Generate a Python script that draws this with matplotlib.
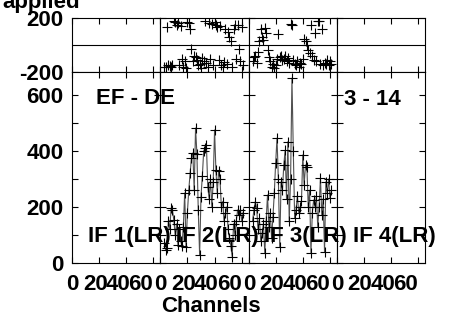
import numpy as np
import matplotlib
matplotlib.use('Agg')
import matplotlib.pyplot as plt
from matplotlib.ticker import MultipleLocator

plt.rcParams['font.family'] = 'Liberation Sans'
plt.rcParams['font.weight'] = 'bold'
plt.rcParams['font.size'] = 16
plt.rcParams['axes.unicode_minus'] = False

# =============================================================================
# data (channels start at 3 in IF 2 and IF 3)
# =============================================================================
if_labels = ['IF 1(LR)', 'IF 2(LR)', 'IF 3(LR)', 'IF 4(LR)']
xticks = [0, 20, 40, 60]

if2_amp = [70, 45, 54, 150, 120, 196, 189, 153, 100, 140,
           64, 120, 80, 60, 130, 250, 58, 180, 260, 321,
           375, 393, 260, 482, 390, 189, 29, 237, 310, 400,
           410, 421, 272, 230, 300, 200, 290, 475, 332, 250,
           330, 300, 200, 219, 150, 180, 200, 120, 89, 60,
           23, 140, 100, 150, 189, 170, 189, 150, 180]
if2_phase = [-160, -165, 135, -150, -153, -160, -145, 175, 168, 150,
             160, -150, 140, -104, -160, -120, -170, 170, 165, 118,
             -30, -118, -80, -90, -110, -150, -140, -170, -95, -120,
             175, -130, -160, 160, -100, 155, -150, 170, 150, 130,
             -110, 140, -150, -160, -125, 120, -140, 100, 57, 32,
             -160, 120, 150, -100, 145, -30, -118, 130, -150]

if3_amp = [150, 190, 219, 197, 120, 160, 80, 107, 140, 36,
           150, 243, 130, 180, 90, 165, 250, 357, 446, 300,
           58, 290, 260, 350, 403, 230, 433, 150, 300, 660,
           400, 160, 190, 240, 180, 200, 220, 386, 280, 350,
           344, 200, 260, 36, 180, 225, 200, 240, 130, 200,
           303, 170, 230, 40, 290, 250, 300, 232, 260]
if3_phase = [-120, -90, -79, -130, -50, 32, 118, 60, 40, 125,
             92, -40, -90, -120, -160, -140, -170, -150, -100, 80,
             -90, -80, -110, -100, -85, -120, -95, -130, 155, 150,
             -110, -140, -150, -120, -160, -130, -140, -100, 44, 30,
             0, -40, -60, 150, -80, -110, 92, -120, 175, 180,
             -140, 120, -150, -130, -140, -110, -150, -120, -140]

amp = [None, if2_amp, if3_amp, None]
phase = [None, if2_phase, if3_phase, None]

# =============================================================================
# layout in pixels of the 459x320 picture
# =============================================================================
W, H = 459, 320
x0, pw = 72, 88.25
fig = plt.figure(figsize=(W / 100, H / 100), dpi=100)

def style(ax):
    ax.tick_params(which='both', direction='in', top=True, right=True,
                   length=4, width=0.8, pad=6)
    for s in ax.spines.values():
        s.set_linewidth(0.8)

for i in range(4):
    left = (x0 + i * pw) / W
    axp = fig.add_axes([left, 1 - 72 / H, pw / W, 54 / H])
    axa = fig.add_axes([left, 1 - 263 / H, pw / W, 191 / H])
    for ax in (axp, axa):
        style(ax)
        ax.set_xlim(0, 65)
        ax.set_xticks(xticks)
        ax.set_xticklabels([])
    axp.set_ylim(-200, 200)
    axp.set_yticks([-200, 200])
    axp.axhline(0, color='k', lw=0.8)
    axa.set_ylim(0, 682)
    axa.yaxis.set_major_locator(MultipleLocator(200))
    axa.yaxis.set_minor_locator(MultipleLocator(100))
    if i > 0:
        axp.set_yticklabels([])
        axa.set_yticklabels([])

    if amp[i] is not None:
        ch = np.arange(3, 3 + len(amp[i]))
        axa.plot(ch, amp[i], '-', color='#505050', lw=0.8)
        axa.plot(ch, amp[i], '+', color='k', ms=7, mew=0.8)
        axp.plot(ch, phase[i], '+', color='k', ms=7, mew=0.8)

    # tick labels sit packed together as in the original plot
    for t in xticks:
        axa.text(t * 0.84 + 0.4, (263 - 290) / 191, str(t), ha='center',
                 va='baseline', transform=axa.get_xaxis_transform())

    fig.text((x0 + i * pw + 16) / W, 1 - 242 / H, if_labels[i], va='baseline')

fig.text(80 / W, 1 - 8 / H, 'applied', ha='right', va='baseline')
fig.text(96 / W, 1 - 104 / H, 'EF - DE', va='baseline')
fig.text(344 / W, 1 - 105 / H, '3 - 14', va='baseline')
fig.text(211 / W, 1 - 312 / H, 'Channels', ha='center', va='baseline')

fig.savefig('out.png', dpi=100)
